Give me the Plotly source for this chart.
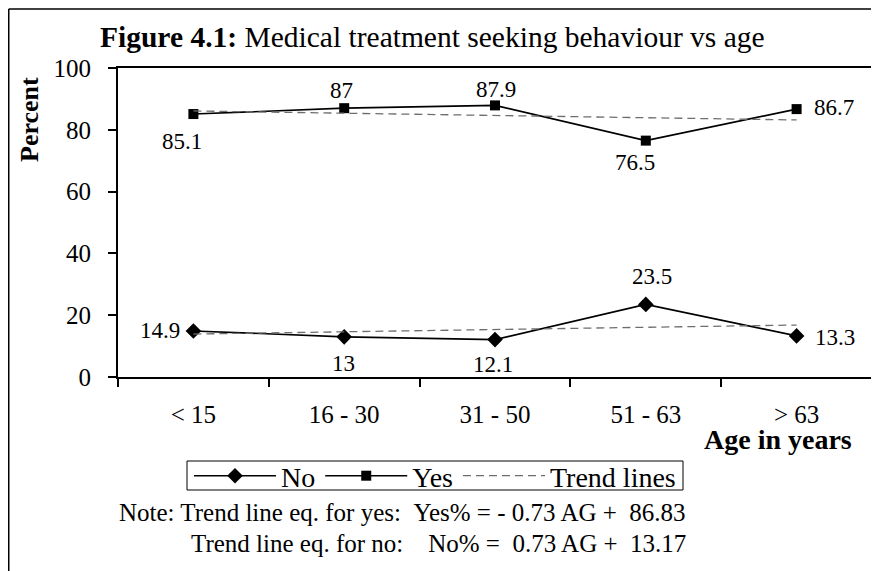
import plotly.graph_objects as go

# ---- data ----
age_groups = ["< 15", "16 - 30", "31 - 50", "51 - 63", "> 63"]
yes_pct = [85.1, 87, 87.9, 76.5, 86.7]
no_pct = [14.9, 13, 12.1, 23.5, 13.3]
# trend line coefficients (from the note: pct = slope * AG + intercept, AG = 1..5)
yes_trend_slope, yes_trend_intercept = -0.73, 86.83
no_trend_slope, no_trend_intercept = 0.73, 13.17
y_ticks = [0, 20, 40, 60, 80, 100]

FONT = "Liberation Serif"
ag = list(range(1, len(age_groups) + 1))
yes_trend = [yes_trend_slope * a + yes_trend_intercept for a in ag]
no_trend = [no_trend_slope * a + no_trend_intercept for a in ag]

# page geometry: the html body adds an 8px margin, so the figure starts at (8, 8)
OFF = 8
SW, SH = 879, 571           # screenshot size
W, H = SW - OFF, SH - OFF   # figure size
# plot-area edges in screenshot pixels
L, R, T, B = 118, 872, 68, 377


def px(x):
    return (x - L) / (R - L)


def py(y):
    return (B - y) / (B - T)


fig = go.Figure()
fig.add_trace(go.Scatter(
    x=age_groups, y=no_pct, name="No", mode="lines+markers",
    line=dict(color="black", width=1.6),
    marker=dict(symbol="diamond", size=12, color="black")))
fig.add_trace(go.Scatter(
    x=age_groups, y=yes_pct, name="Yes", mode="lines+markers",
    line=dict(color="black", width=1.6),
    marker=dict(symbol="square", size=10, color="black")))
fig.add_trace(go.Scatter(
    x=age_groups, y=yes_trend, name="Trend lines", mode="lines",
    legendgroup="trend",
    line=dict(color="#6e6e6e", width=1.3, dash="8px,5px")))
fig.add_trace(go.Scatter(
    x=age_groups, y=no_trend, name="Trend lines", mode="lines",
    legendgroup="trend", showlegend=False,
    line=dict(color="#6e6e6e", width=1.3, dash="8px,5px")))

# data labels: offsets (dx, dy) in pixels, dy positive = downward
yes_off = [(-11, 27), (-3, -18), (1, -16), (-11, 22), (37, -2)]
no_off = [(-33, 0), (-1, 27), (-2, 25), (6, -28), (38, 2)]
annotations = []
for vals, offs in ((yes_pct, yes_off), (no_pct, no_off)):
    for cat, v, (dx, dy) in zip(age_groups, vals, offs):
        annotations.append(dict(
            x=cat, y=v, xref="x", yref="y", text=f"{v:g}", showarrow=False,
            xshift=dx, yshift=-dy, font=dict(family=FONT, size=23, color="black")))

annotations += [
    dict(x=px(29), y=py(120), xref="paper", yref="paper", text="<b>Percent</b>",
         textangle=-90, showarrow=False, xanchor="center", yanchor="middle",
         font=dict(family=FONT, size=26, color="black")),
    dict(x=px(778), y=py(439), xref="paper", yref="paper", text="<b>Age in years</b>",
         showarrow=False, xanchor="center", yanchor="middle",
         font=dict(family=FONT, size=28, color="black")),
    dict(x=px(688), y=py(512), xref="paper", yref="paper",
         text="Note: Trend line eq. for yes:\u00a0\u00a0Yes% = - 0.73 AG +\u00a0\u00a086.83",
         showarrow=False, xanchor="right", yanchor="middle",
         font=dict(family=FONT, size=25, color="black")),
    dict(x=px(688), y=py(543), xref="paper", yref="paper",
         text="Trend line eq. for no:\u00a0\u00a0\u00a0\u00a0No% =\u00a0\u00a00.73 AG +\u00a0\u00a013.17",
         showarrow=False, xanchor="right", yanchor="middle",
         font=dict(family=FONT, size=25, color="black")),
]

shapes = [
    # outer frame (top and left edges)
    dict(type="line", xref="paper", yref="paper", x0=px(8.75), x1=px(874), y0=py(9), y1=py(9),
         line=dict(color="black", width=1.5)),
    dict(type="line", xref="paper", yref="paper", x0=px(8.75), x1=px(8.75), y0=py(9), y1=py(580),
         line=dict(color="black", width=1.5)),
    # legend box
    dict(type="rect", xref="paper", yref="paper", x0=px(187), x1=px(683), y0=py(461), y1=py(490),
         line=dict(color="black", width=1), fillcolor="rgba(0,0,0,0)"),
]

fig.update_layout(
    width=W, height=H,
    margin=dict(l=L - OFF, r=SW - R, t=T - OFF, b=SH - B, pad=0, autoexpand=False),
    paper_bgcolor="white", plot_bgcolor="white",
    font=dict(family=FONT, color="black"),
    title=dict(text="<b>Figure 4.1:</b> Medical treatment seeking behaviour vs age",
               x=(100 - OFF) / W, xref="container", xanchor="left",
               y=1 - (37 - OFF) / H, yref="container", yanchor="middle",
               pad=dict(l=0, r=0, t=0, b=0),
               font=dict(family=FONT, size=29.5, color="black")),
    showlegend=True,
    legend=dict(orientation="h", x=px(189), y=py(476), xanchor="left", yanchor="middle",
                borderwidth=0, bgcolor="rgba(0,0,0,0)",
                font=dict(family=FONT, size=28, color="black"),
                itemsizing="trace", tracegroupgap=0, itemwidth=82),
    annotations=annotations,
    shapes=shapes,
)
fig.update_xaxes(
    type="category", range=[-0.5, len(age_groups) - 0.5],
    showline=True, linecolor="black", linewidth=2, mirror=True,
    ticks="outside", tickson="boundaries", ticklen=8, tickcolor="black", tickwidth=1.5,
    ticklabelstandoff=14,
    tickfont=dict(family=FONT, size=25, color="black"),
    showgrid=False, zeroline=False)
fig.update_yaxes(
    range=[0, 100], tickvals=y_ticks,
    showline=True, linecolor="black", linewidth=2, mirror=True,
    ticks="outside", ticklen=8, tickcolor="black", tickwidth=1.5,
    ticklabelstandoff=12,
    tickfont=dict(family=FONT, size=25, color="black"),
    showgrid=False, zeroline=False)

fig.write_html("out.html")
